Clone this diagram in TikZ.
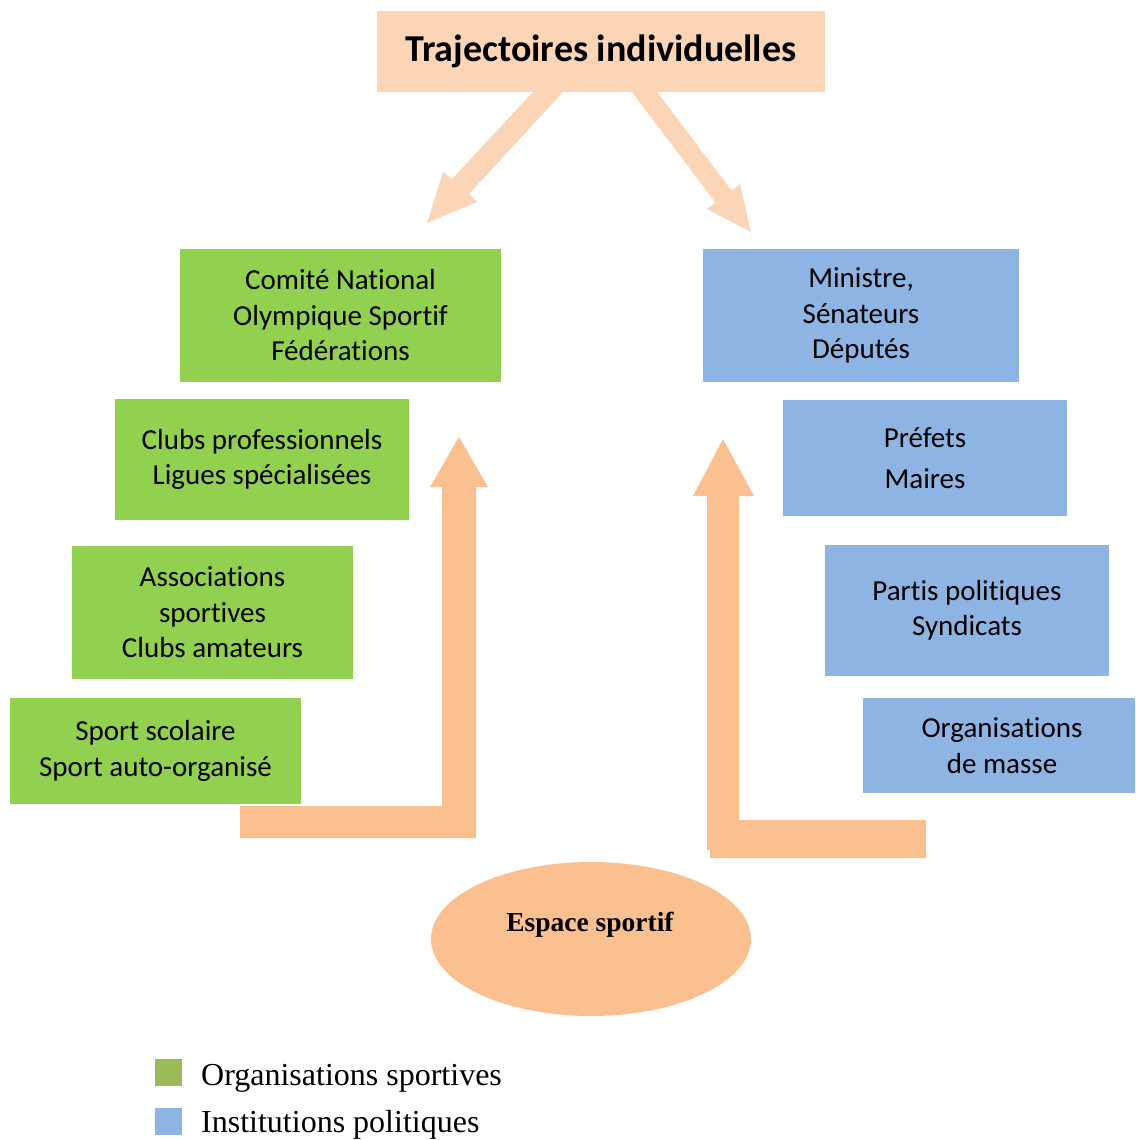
\documentclass[tikz,border=0pt]{standalone}
\usepackage{fontspec}
\setmainfont[Ligatures=NoCommon]{Carlito}
\newfontfamily\timesf{Liberation Serif}
\usetikzlibrary{shapes.geometric}
\definecolor{sgreen}{HTML}{92D050}
\definecolor{pblue}{HTML}{8EB4E3}
\definecolor{lgreen}{HTML}{9BBB59}
\definecolor{peach}{HTML}{FAC090}
\definecolor{lpeach}{HTML}{FBD5B5}
\begin{document}
\begin{tikzpicture}[x=1pt,y=-1pt,
  box/.style={rectangle, inner sep=0pt, align=center, font=\fontsize{29}{35.5}\selectfont},
  gbox/.style={box, fill=sgreen},
  bbox/.style={box, fill=pblue},
  blockarrow/.style={fill=peach, draw=none},
  toparrow/.style={fill=lpeach, draw=none},
  legsq/.style={rectangle, inner sep=0pt, minimum size=27pt},
  legtxt/.style={anchor=west, inner sep=0pt, font=\timesf\fontsize{32}{38}\selectfont}]
\useasboundingbox (0,0) rectangle (1135,1140);

% title
\node[rectangle, fill=lpeach, inner sep=0pt, minimum width=448pt, minimum height=81pt,
      font=\bfseries\fontsize{38}{44}\selectfont] (title) at (601,51.5) {Trajectoires individuelles};

% top arrows
\fill[toparrow] (533,92) -- (563,92) -- (469,194) -- (477,202) -- (427,223) -- (443,172) -- (452,179) -- cycle;
\fill[toparrow] (632,92) -- (657,92) -- (731.5,190.4) -- (740,184) -- (751,232) -- (707,209) -- (715.5,202.6) -- cycle;

% green boxes
\node[gbox, minimum width=321pt, minimum height=133pt] (cno) at (340.5,315.5) {Comité National\\Olympique Sportif\\Fédérations};
\node[gbox, minimum width=294pt, minimum height=121pt] (clubs) at (262,459.5) {Clubs professionnels\\Ligues spécialisées};
\node[gbox, minimum width=281pt, minimum height=133pt] (assoc) at (212.5,612.5) {Associations\\sportives\\Clubs amateurs};
\node[gbox, minimum width=291pt, minimum height=106pt] (scol) at (155.5,751) {Sport scolaire\\Sport auto-organisé};

% blue boxes
\node[bbox, minimum width=316pt, minimum height=133pt] (min) at (861,315.5) {Ministre,\\Sénateurs\\Députés};
\node[bbox, minimum width=284pt, minimum height=116pt] (pref) at (925,458) {Préfets\\[5.5pt]Maires};
\node[bbox, minimum width=284pt, minimum height=131pt] (partis) at (967,610.5) {Partis politiques\\Syndicats};
\node[bbox, minimum width=272pt, minimum height=95pt] (orgm) at (999,745.5) {\hspace*{6pt}Organisations\\\hspace*{6pt}de masse};

% bent arrows
\fill[blockarrow] (240,806) -- (442,806) -- (442,487) -- (430,487) -- (459,437) -- (488,487) -- (476,487) -- (476,838) -- (240,838) -- cycle;
\fill[blockarrow] (926,820) -- (739,820) -- (739,496) -- (754,496) -- (723,439) -- (693,496) -- (707,496) -- (707,850) -- (710,850) -- (710,858) -- (926,858) -- cycle;

% ellipse
\node[ellipse, fill=peach, minimum width=320pt, minimum height=154pt, inner sep=0pt] (espace) at (591,939) {};
\node[font=\timesf\bfseries\fontsize{27.5}{32}\selectfont, inner sep=0pt] (espacetxt) at (590,925) {Espace sportif};

% legend
\node[legsq, fill=lgreen] (lg) at (168,1072) {};
\node[legsq, fill=pblue] (lb) at (168,1121.5) {};
\node[legtxt] (lgt) at (201,1078) {Organisations sportives};
\node[legtxt] (lbt) at (201,1125) {Institutions politiques};
\end{tikzpicture}
\end{document}
